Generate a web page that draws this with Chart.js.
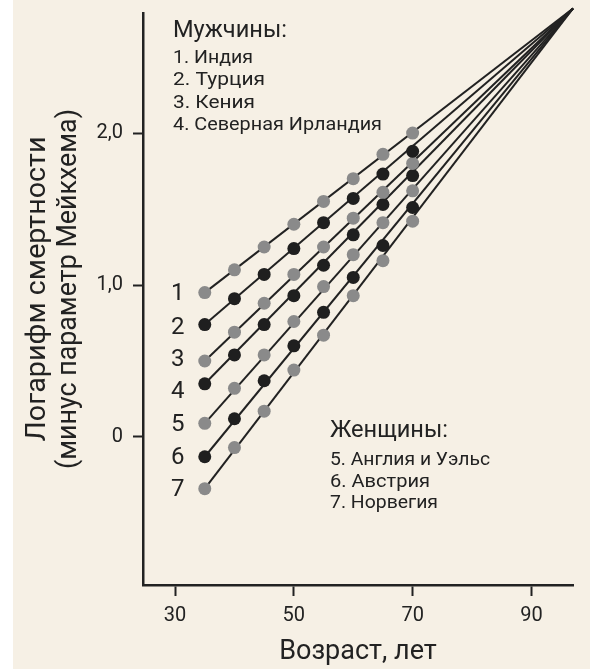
<!DOCTYPE html>
<html>
<head>
<meta charset="utf-8">
<script src="https://cdn.jsdelivr.net/npm/chart.js@4/dist/chart.umd.min.js"></script>
<style>
  html, body { margin: 0; padding: 0; background: #ffffff; }
  #wrap { width: 590px; height: 669px; position: relative; }
  canvas { display: block; }
</style>
</head>
<body>
<div id="wrap"><canvas id="c" width="590" height="669"></canvas></div>
<script>
// ---------- DATA ----------
const ages = [35, 40, 45, 50, 55, 60, 65, 70];
const india         = [0.95, 1.10, 1.25, 1.40, 1.55, 1.70, 1.86, 2.00];
const turkey        = [0.74, 0.91, 1.07, 1.24, 1.41, 1.57, 1.73, 1.88];
const kenya         = [0.50, 0.69, 0.88, 1.07, 1.25, 1.44, 1.61, 1.80];
const northIreland  = [0.35, 0.54, 0.74, 0.93, 1.13, 1.33, 1.53, 1.72];
const englandWales  = [0.09, 0.32, 0.54, 0.76, 0.99, 1.20, 1.41, 1.62];
const austria       = [-0.13, 0.12, 0.37, 0.60, 0.82, 1.05, 1.26, 1.51];
const norway        = [-0.34, -0.07, 0.17, 0.44, 0.67, 0.93, 1.16, 1.42];
const seriesValues  = [india, turkey, kenya, northIreland, englandWales, austria, norway];
const seriesNames   = ['Индия', 'Турция', 'Кения', 'Северная Ирландия', 'Англия и Уэльс', 'Австрия', 'Норвегия'];
const seriesNumbers = ['1', '2', '3', '4', '5', '6', '7'];
const apexAge = 97;      // common convergence point of the lines
const apexValue = 2.82;
const xTicks = [30, 50, 70, 90];
const xTickLabels = ['30', '50', '70', '90'];
const yTicks = [0, 1, 2];
const yTickLabels = ['0', '1,0', '2,0'];
const menTitle = 'Мужчины:';
const womenTitle = 'Женщины:';
const menItems = [0, 1, 2, 3];
const womenItems = [4, 5, 6];
const xTitle = 'Возраст, лет';
const yTitleLines = ['Логарифм смертности', '(минус параметр Мейкхема)'];

// ---------- STYLE ----------
const FAMILY = 'Roboto, "Open Sans", sans-serif';
const CREAM = '#f6f0e5';
const INK = '#222222';
const GRAY = '#8a8a8a';
const BLACK = '#1f1f1f';
const dotColors = [GRAY, BLACK, GRAY, BLACK, GRAY, BLACK, GRAY];
const tickSize = 20;
const numberSize = 24;
const xTitleSize = 27;

// draw text at a given font size, squeezed horizontally to a target width
function drawFitted(c, text, x, y, size, width, align) {
  c.save();
  c.font = size + 'px ' + FAMILY;
  const w = c.measureText(text).width;
  const sx = width / w;
  c.translate(x, y);
  c.scale(sx, 1);
  c.textAlign = align || 'left';
  c.fillText(text, 0, 0);
  c.restore();
}

// ---------- DATASETS ----------
const datasets = [];
seriesValues.forEach((vals, i) => {
  datasets.push({
    type: 'line',
    label: seriesNames[i] + ' (линия)',
    data: [{ x: ages[0], y: vals[0] }, { x: apexAge, y: apexValue }],
    borderColor: INK,
    borderWidth: 2,
    pointRadius: 0,
    fill: false,
    clip: false,
    order: 2
  });
});
seriesValues.forEach((vals, i) => {
  datasets.push({
    type: 'scatter',
    label: seriesNames[i],
    data: ages.map((a, j) => ({ x: a, y: vals[j] })),
    backgroundColor: dotColors[i],
    borderWidth: 0,
    pointRadius: 6.5,
    pointHoverRadius: 6.5,
    showLine: false,
    order: 1
  });
});

// ---------- PLUGINS ----------
const bgPlugin = {
  id: 'bg',
  beforeDraw(chart) {
    const c = chart.ctx;
    c.save();
    c.fillStyle = CREAM;
    c.fillRect(13, 0, chart.width - 13, chart.height);
    c.restore();
  }
};

const textPlugin = {
  id: 'texts',
  afterDatasetsDraw(chart) {
    const c = chart.ctx;
    const xs = chart.scales.x, ys = chart.scales.y;
    c.save();
    c.fillStyle = INK;
    // series numbers next to first points
    const numOffsets = [1, 3, -1, 8, 2, 1, 1];
    c.font = numberSize + 'px ' + FAMILY;
    c.textAlign = 'center';
    c.textBaseline = 'middle';
    seriesValues.forEach((vals, i) => {
      const px = xs.getPixelForValue(ages[0]) - 27;
      const py = ys.getPixelForValue(vals[0]) + numOffsets[i];
      c.fillText(seriesNumbers[i], px, py);
    });
    // legends
    c.textBaseline = 'alphabetic';
    drawFitted(c, menTitle, 173, 37, 24, 114);
    drawFitted(c, womenTitle, 330, 437, 24, 118);
    const itemSize = 18.5;
    const menW = [80, 92, 82, 209];
    const womenW = [160, 100, 108];
    menItems.forEach((k, j) => drawFitted(c, seriesNumbers[k] + '. ' + seriesNames[k], 173, 63 + j * 22.4, itemSize, menW[j]));
    womenItems.forEach((k, j) => drawFitted(c, seriesNumbers[k] + '. ' + seriesNames[k], 330, 465 + j * 21.5, itemSize, womenW[j]));
    // y axis title (two lines, rotated)
    c.save();
    c.translate(0, 289);
    c.rotate(-Math.PI / 2);
    c.textBaseline = 'middle';
    drawFitted(c, yTitleLines[0], 0, 38, 27.5, 305, 'center');
    drawFitted(c, yTitleLines[1], 0, 69, 27.5, 360, 'center');
    c.restore();
    c.restore();
  }
};

// ---------- CHART ----------
new Chart(document.getElementById('c'), {
  type: 'scatter',
  data: { datasets },
  options: {
    responsive: false,
    animation: false,
    events: [],
    layout: { padding: { left: 0, right: 17, top: 13, bottom: 0 } },
    plugins: { legend: { display: false }, tooltip: { enabled: false } },
    scales: {
      x: {
        type: 'linear',
        min: 24.6,
        max: 97,
        afterBuildTicks: s => { s.ticks = xTicks.map(v => ({ value: v })); },
        afterFit: s => { s.height = 84; s.paddingLeft = 0; s.paddingRight = 0; },
        ticks: {
          font: { family: FAMILY, size: tickSize },
          color: INK,
          padding: 8,
          callback: v => xTickLabels[xTicks.indexOf(v)]
        },
        grid: { drawOnChartArea: false, drawTicks: true, tickLength: 11, tickWidth: 2, tickColor: INK },
        border: { display: true, color: INK, width: 2.5 },
        title: {
          display: true,
          text: xTitle,
          color: INK,
          font: { family: FAMILY, size: xTitleSize, lineHeight: 1.2 },
          padding: { top: 0, bottom: 1 }
        }
      },
      y: {
        type: 'linear',
        min: -0.974,
        max: 2.79,
        afterBuildTicks: s => { s.ticks = yTicks.map(v => ({ value: v })); },
        afterFit: s => { s.width = 143; s.paddingTop = 0; s.paddingBottom = 0; },
        ticks: {
          font: { family: FAMILY, size: tickSize },
          color: INK,
          padding: 10,
          callback: v => yTickLabels[yTicks.indexOf(v)]
        },
        grid: { drawOnChartArea: false, drawTicks: true, tickLength: 10, tickWidth: 2, tickColor: INK },
        border: { display: true, color: INK, width: 2.5 }
      }
    }
  },
  plugins: [bgPlugin, textPlugin]
});
</script>
</body>
</html>
